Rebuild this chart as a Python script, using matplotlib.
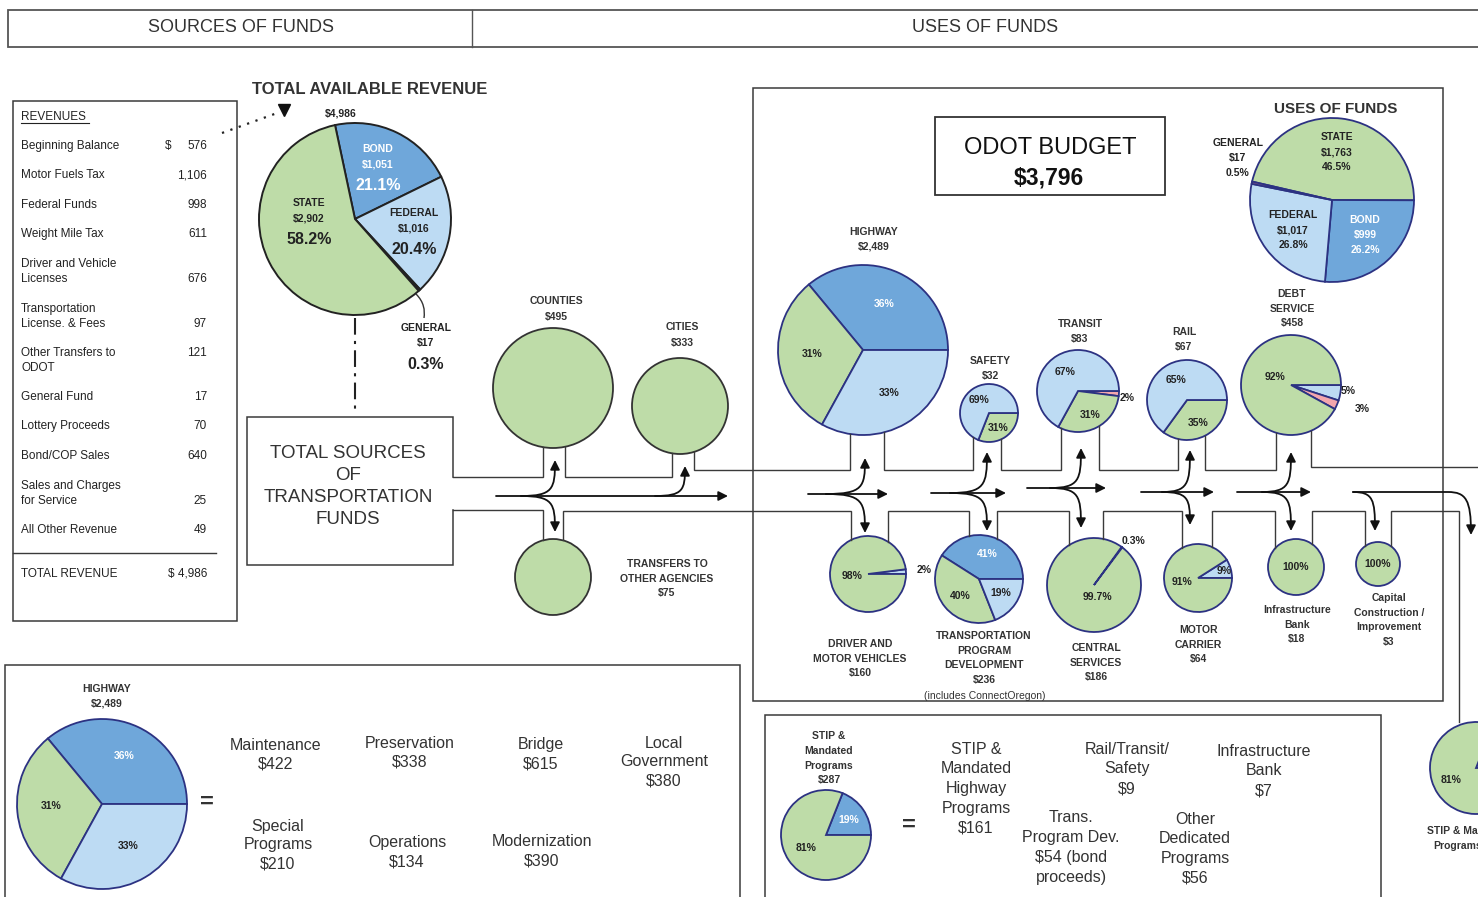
import matplotlib
matplotlib.use('Agg')
import matplotlib.pyplot as plt
from matplotlib import font_manager
from matplotlib.patches import FancyArrowPatch, Rectangle, PathPatch
from matplotlib.path import Path

names = {f.name for f in font_manager.fontManager.ttflist}
SANS = 'Liberation Sans' if 'Liberation Sans' in names else 'DejaVu Sans'
NARROW = 'Liberation Sans Narrow' if 'Liberation Sans Narrow' in names else SANS
plt.rcParams['font.family'] = [SANS, 'DejaVu Sans']

GREEN = '#bedca8'
DBLUE = '#6fa7da'
LBLUE = '#bddbf3'
PINK = '#f3a6ad'
NAVY = '#2c3282'
INK = '#222222'
LINE = '#3a3a3a'

# ---- data ----
rev_labels = ['Beginning Balance', 'Motor Fuels Tax', 'Federal Funds', 'Weight Mile Tax',
              'Driver and Vehicle\nLicenses', 'Transportation\nLicense. & Fees',
              'Other Transfers to\nODOT', 'General Fund', 'Lottery Proceeds', 'Bond/COP Sales',
              'Sales and Charges\nfor Service', 'All Other Revenue']
rev_values = [576, 1106, 998, 611, 676, 97, 121, 17, 70, 640, 25, 49]
total_revenue = 4986

src_names = ['BOND', 'FEDERAL', 'GENERAL', 'STATE']
src_amounts = [1051, 1016, 17, 2902]
src_pcts = [21.1, 20.4, 0.3, 58.2]

use_names = ['STATE', 'BOND', 'FEDERAL', 'GENERAL']
use_amounts = [1763, 999, 1017, 17]
use_pcts = [46.5, 26.2, 26.8, 0.5]
odot_budget = 3796

local_names = ['COUNTIES', 'CITIES', 'TRANSFERS TO\nOTHER AGENCIES']
local_amounts = [495, 333, 75]

top_names = ['HIGHWAY', 'SAFETY', 'TRANSIT', 'RAIL', 'DEBT\nSERVICE']
top_amounts = [2489, 32, 83, 67, 458]
bottom_names = ['DRIVER AND\nMOTOR VEHICLES', 'TRANSPORTATION\nPROGRAM\nDEVELOPMENT', 'CENTRAL\nSERVICES',
                'MOTOR\nCARRIER', 'Infrastructure\nBank', 'Capital\nConstruction /\nImprovement']
bottom_amounts = [160, 236, 186, 64, 18, 3]

hwy_shares = [36, 31, 33]
safety_shares = [31, 69]
transit_shares = [2, 31, 67]
rail_shares = [35, 65]
debt_shares = [5, 3, 92]
dmv_shares = [2, 98]
tpd_shares = [41, 40, 19]
central_shares = [0.3, 99.7]
motor_shares = [9, 91]
ibank_shares = [100]
capital_shares = [100]
stip_shares = [19, 81]

hwy_items = ['Maintenance', 'Preservation', 'Bridge', 'Local\nGovernment',
             'Special\nPrograms', 'Operations', 'Modernization']
hwy_item_amounts = [422, 338, 615, 380, 210, 134, 390]
stip_total = 287
stip_items = ['STIP &\nMandated\nHighway\nPrograms', 'Rail/Transit/\nSafety', 'Infrastructure\nBank',
              'Trans.\nProgram Dev.', 'Other\nDedicated\nPrograms']
stip_item_amounts = [161, 9, 7, 54, 56]
stip_item_notes = ['', '', '', ' (bond\nproceeds)', '']

fig = plt.figure(figsize=(14.78, 8.97), dpi=100)
fig.patch.set_facecolor('white')
ax = fig.add_axes([0, 0, 1, 1])


def T(x, y, s, size, weight='normal', color=INK, ha='center', family=None):
    kw = {}
    if family:
        kw['family'] = family
    ax.text(x, y, s, ha=ha, va='center', fontsize=size, fontweight=weight, color=color, **kw)


def lines(x, y, s, size, pitch, **kw):
    for i, part in enumerate(s.split('\n')):
        T(x, y + i * pitch, part, size, **kw)


def pie(vals, colors, cx, cy, r, start=0, ccw=True, edge=NAVY, lw=1.3):
    # y axis is inverted, so flip angles for the screen
    ax.pie(vals, colors=colors, center=(cx, cy), radius=r, startangle=-start,
           counterclock=not ccw, frame=True,
           wedgeprops=dict(edgecolor=edge, linewidth=lw))


def poly(pts, lw=1.0, color=LINE, ls='-'):
    ax.plot([p[0] for p in pts], [p[1] for p in pts], color=color, lw=lw, ls=ls,
            solid_joinstyle='miter')


def branch(xs, y, xt, yt):
    verts = [(xs, y), (xt - 2, y), (xt, y + 0.2 * (yt - y)), (xt, yt)]
    codes = [Path.MOVETO, Path.CURVE4, Path.CURVE4, Path.CURVE4]
    ax.add_patch(FancyArrowPatch(path=Path(verts, codes), arrowstyle='-|>',
                                 mutation_scale=14, lw=1.3, color='#111111'))


def flow(x0, x1, y, splits):
    ax.annotate('', xy=(x1, y), xytext=(x0, y),
                arrowprops=dict(arrowstyle='-|>', color='#111111', lw=1.3,
                                mutation_scale=14, shrinkA=0, shrinkB=0))
    for xs, xt, yt in splits:
        branch(xs, y, xt, yt)


def ybot(cx, cy, r, x):
    return cy + (r * r - (x - cx) ** 2) ** 0.5


def ytop(cx, cy, r, x):
    return cy - (r * r - (x - cx) ** 2) ** 0.5


# ---- header ----
poly([(1478, 10), (8, 10), (8, 47), (1478, 47)], lw=1.3, color='#555555')
poly([(472, 10), (472, 47)], lw=1.0, color='#555555')
T(241, 27, 'SOURCES OF FUNDS', 13, color='#333333', family=NARROW)
T(985, 27, 'USES OF FUNDS', 13, color='#333333', family=NARROW)

# ---- revenue table ----
ax.add_patch(Rectangle((13, 101), 224, 520, fill=False, ec=LINE, lw=1.1))
T(21, 117, 'REVENUES', 8.5, ha='left')
poly([(21, 123.5), (89, 123.5)], lw=0.8, color=INK)
rev_y = [146, 175, 205, 234, 264, 309, 353, 397, 426, 456, 486, 530]
value_line = [0, 0, 0, 0, 1, 1, 0, 0, 0, 0, 1, 0]
for lab, val, y, vl in zip(rev_labels, rev_values, rev_y, value_line):
    lines(21, y, lab, 8.5, 14.5, ha='left')
    T(207, y + vl * 14.5, f'{val:,}', 8.5, ha='right')
T(165, rev_y[0], '$', 8.5, ha='left')
poly([(13, 553), (216, 553)], lw=1.0)
T(21, 574, 'TOTAL REVENUE', 8.5, ha='left')
T(207, 574, f'$ {total_revenue:,}', 8.5, ha='right')

# dotted pointer
poly([(222, 133), (280, 112)], lw=1.6, color='#222222', ls=(0, (1, 3)))
ax.plot([284], [110], marker='v', color='#111111', markersize=8)

# ---- total available revenue pie ----
T(370, 89, 'TOTAL AVAILABLE REVENUE', 12, weight='bold', color='#333333')
T(341, 113, f'${total_revenue:,}', 7.5, weight='bold')
pie(src_amounts, [DBLUE, LBLUE, PINK, GREEN], 355, 219, 96, start=102, ccw=False,
    edge='#222222', lw=1.4)
src_pos = [(378, 149, 'white'), (414, 213, INK), (426, 328, INK), (309, 203, INK)]
for nm, amt, pct, (x, y, c) in zip(src_names, src_amounts, src_pcts, src_pos):
    T(x, y, nm, 7.5, weight='bold', color=c)
    T(x, y + 15, f'${amt:,}', 7.5, weight='bold', color=c)
    T(x, y + 36, f'{pct}%', 11.5, weight='bold', color=c)
lv = [(416, 294), (424, 302), (425, 310), (424, 318)]
ax.add_patch(PathPatch(Path(lv, [Path.MOVETO, Path.CURVE4, Path.CURVE4, Path.CURVE4]),
                       fill=False, ec='#333333', lw=1.0))
poly([(355, 318), (355, 410)], lw=1.5, color='#222222', ls=(0, (8, 3, 1.5, 3)))

# ---- total sources box and pipes ----
poly([(453, 477), (453, 417), (247, 417), (247, 565), (453, 565), (453, 510)], lw=1.1)
lines(348, 453, 'TOTAL SOURCES\nOF\nTRANSPORTATION\nFUNDS', 13.5, 22, color='#333333')

local_pos = [(553, 388, 60), (680, 406, 48), (553, 577, 38)]
for amt, (cx, cy, r) in zip(local_amounts, local_pos):
    pie([amt], [GREEN], cx, cy, r, edge='#333333', lw=1.3)
lines(556, 301, f'{local_names[0]}\n${local_amounts[0]}', 7.5, 15.5, weight='bold', color='#333333')
lines(682, 327, f'{local_names[1]}\n${local_amounts[1]}', 7.5, 15.5, weight='bold', color='#333333')
lines(667, 564, f'{local_names[2]}\n${local_amounts[2]}', 7.5, 14.5, weight='bold', color='#333333')

# ---- uses box ----
ax.add_patch(Rectangle((753, 88), 690, 613, fill=False, ec=LINE, lw=1.1))
ax.add_patch(Rectangle((935, 117), 230, 78, fill=False, ec='#333333', lw=1.3))
T(1050, 148, 'ODOT BUDGET', 17, color='#111111')
T(1049, 178, f'${odot_budget:,}', 16.5, weight='bold', color='#111111')

T(1336, 109, 'USES OF FUNDS', 11, weight='bold', color='#333333')
pie(use_amounts, [GREEN, DBLUE, LBLUE, '#9a5a8a'], 1332, 200, 82, start=167, ccw=False)
use_pos = [(1337, 137, INK), (1365, 220, 'white'), (1293, 215, INK), (1238, 143, INK)]
for nm, amt, pct, (x, y, c) in zip(use_names, use_amounts, use_pcts, use_pos):
    T(x, y, nm, 7.5, weight='bold', color=c)
    T(x, y + 15, f'${amt:,}', 7.5, weight='bold', color=c)
    T(x, y + 30, f'{pct}%', 7.5, weight='bold', color=c)


# ---- program pies ----
def pct_labels(shares, pos, white=()):
    for i, (s, (x, y)) in enumerate(zip(shares, pos)):
        T(x, y, f'{s:g}%', 7.5, weight='bold', color='white' if i in white else INK)


top_geo = [(863, 350, 85), (989, 413, 29), (1078, 391, 41), (1187, 400, 40), (1291, 385, 50)]
top_title = [(874, 232), (990, 361), (1080, 324), (1184, 332), (1292, 294)]
pie(hwy_shares, [DBLUE, GREEN, LBLUE], *top_geo[0], start=0, ccw=True)
pct_labels(hwy_shares, [(884, 304), (812, 354), (889, 393)], white=(0,))
pie(safety_shares, [GREEN, LBLUE], *top_geo[1], start=0, ccw=False)
pct_labels(safety_shares, [(998, 428), (979, 400)])
pie(transit_shares, [PINK, GREEN, LBLUE], *top_geo[2], start=0, ccw=False)
pct_labels(transit_shares, [(1127, 398), (1090, 415), (1065, 372)])
pie(rail_shares, [GREEN, LBLUE], *top_geo[3], start=0, ccw=False)
pct_labels(rail_shares, [(1198, 423), (1176, 380)])
pie(debt_shares, [LBLUE, PINK, GREEN], *top_geo[4], start=0, ccw=False)
pct_labels(debt_shares, [(1348, 391), (1362, 409), (1275, 377)])
for nm, amt, (x, y) in zip(top_names, top_amounts, top_title):
    lines(x, y, f'{nm}\n${amt:,}', 7.5, 14.5, weight='bold', color='#333333')

bot_geo = [(868, 574, 38), (979, 579, 44), (1094, 585, 47), (1198, 578, 34),
           (1296, 567, 28), (1378, 564, 22)]
bot_title = [(860, 644), (984, 636), (1096, 648), (1198, 630), (1297, 610), (1389, 598)]
pie(dmv_shares, [LBLUE, GREEN], *bot_geo[0], start=0, ccw=True)
pct_labels(dmv_shares, [(924, 570), (852, 576)])
pie(tpd_shares, [DBLUE, GREEN, LBLUE], *bot_geo[1], start=0, ccw=True)
pct_labels(tpd_shares, [(987, 554), (960, 596), (1001, 593)], white=(0,))
pie(central_shares, [LBLUE, GREEN], *bot_geo[2], start=53, ccw=True)
pct_labels(central_shares, [(1134, 541), (1097, 597)])
pie(motor_shares, [LBLUE, GREEN], *bot_geo[3], start=0, ccw=True)
pct_labels(motor_shares, [(1224, 571), (1182, 582)])
pie(ibank_shares, [GREEN], *bot_geo[4])
pct_labels(ibank_shares, [(1296, 567)])
pie(capital_shares, [GREEN], *bot_geo[5])
pct_labels(capital_shares, [(1378, 564)])
for nm, amt, (x, y) in zip(bottom_names, bottom_amounts, bot_title):
    lines(x, y, f'{nm}\n${amt:,}', 7.5, 14.5, weight='bold', color='#333333')
T(985, 696, '(includes ConnectOregon)', 7.5, color='#333333')

# ---- pipes (top) ----
cg, cc = local_pos[0], local_pos[1]
poly([(453, 477), (543, 477), (543, ybot(*cg, 543))])
poly([(565, ybot(*cg, 565)), (565, 477), (672, 477), (672, ybot(*cc, 672))])
stems_top = [(850, 884), (973, 1001), (1061, 1099), (1178, 1205), (1276, 1311)]
prev = (694, ybot(*cc, 694))
for (xl, xr), g in zip(stems_top, top_geo):
    poly([prev, (prev[0], 470), (xl, 470), (xl, ybot(*g, xl))])
    prev = (xr, ybot(*g, xr))
poly([prev, (prev[0], 467), (1478, 467)])

# ---- pipes (bottom) ----
ct = local_pos[2]
poly([(453, 510), (543, 510), (543, ytop(*ct, 543))])
stems_bot = [(851, 888), (969, 997), (1069, 1103), (1182, 1212), (1275, 1312), (1365, 1391)]
prev = (563, ytop(*ct, 563))
for (xl, xr), g in zip(stems_bot, bot_geo):
    poly([prev, (prev[0], 511), (xl, 511), (xl, ytop(*g, xl))])
    prev = (xr, ytop(*g, xr))
poly([prev, (prev[0], 511), (1459, 511), (1459, 722)])

# ---- flow arrows ----
flow(496, 728, 496, [(521, 555, 460), (521, 555, 532), (655, 685, 466)])
flow(808, 888, 494, [(826, 865, 458), (826, 865, 533)])
flow(931, 1006, 493, [(950, 987, 452), (950, 987, 531)])
flow(1027, 1106, 488, [(1050, 1081, 448), (1050, 1081, 528)])
flow(1141, 1214, 492, [(1162, 1190, 450), (1162, 1190, 525)])
flow(1237, 1311, 492, [(1262, 1291, 452), (1262, 1291, 531)])
branch(1353, 492, 1375, 531)
ax.add_patch(FancyArrowPatch(
    path=Path([(1353, 492), (1448, 492), (1466, 492), (1471, 500), (1471, 535)],
              [Path.MOVETO, Path.LINETO, Path.CURVE4, Path.CURVE4, Path.CURVE4]),
    arrowstyle='-|>', mutation_scale=14, lw=1.3, color='#111111'))

# ---- highway breakdown box ----
poly([(5, 897), (5, 665), (740, 665), (740, 897)], lw=1.1)
pie(hwy_shares, [DBLUE, GREEN, LBLUE], 102, 804, 85, start=0, ccw=True)
pct_labels(hwy_shares, [(124, 756), (51, 806), (128, 846)], white=(0,))
lines(107, 689, f'{top_names[0]}\n${top_amounts[0]:,}', 7.5, 15, weight='bold', color='#333333')
T(207, 802, '=', 17, weight='bold', color='#333333')
hwy_item_pos = [(276, 745), (410, 743), (541, 745), (664, 743), (278, 826), (407, 843), (542, 842)]
for nm, amt, (x, y) in zip(hwy_items, hwy_item_amounts, hwy_item_pos):
    lines(x, y, f'{nm}\n${amt:,}', 11.5, 19, color='#333333', family=NARROW)

# ---- STIP box ----
poly([(765, 897), (765, 715), (1381, 715), (1381, 897)], lw=1.1)
pie(stip_shares, [DBLUE, GREEN], 826, 835, 45, start=0, ccw=True)
pct_labels(stip_shares, [(849, 820), (806, 848)], white=(0,))
lines(829, 736, f'STIP &\nMandated\nPrograms\n${stip_total}', 7.5, 14.8, weight='bold', color='#333333')
T(909, 825, '=', 17, weight='bold', color='#333333')
stip_item_pos = [(976, 749), (1127, 749), (1264, 751), (1071, 818), (1195, 819)]
for nm, amt, note, (x, y) in zip(stip_items, stip_item_amounts, stip_item_notes, stip_item_pos):
    lines(x, y, f'{nm}\n${amt}{note}', 11.5, 19.8, color='#333333', family=NARROW)

# ---- partial STIP pie at right edge (cut off by the page, as in the source) ----
pie(stip_shares, [DBLUE, GREEN], 1476, 768, 46, start=0, ccw=True)
T(1451, 780, f'{stip_shares[1]}%', 7.5, weight='bold')
T(1427, 831, 'STIP & Mandated', 7.5, weight='bold', color='#333333', ha='left')
T(1433, 846, 'Programs', 7.5, weight='bold', color='#333333', ha='left')

ax.set_xlim(0, 1478)
ax.set_ylim(897, 0)
ax.set_aspect('equal')
ax.axis('off')
fig.savefig('out.png', dpi=100, facecolor='white')
